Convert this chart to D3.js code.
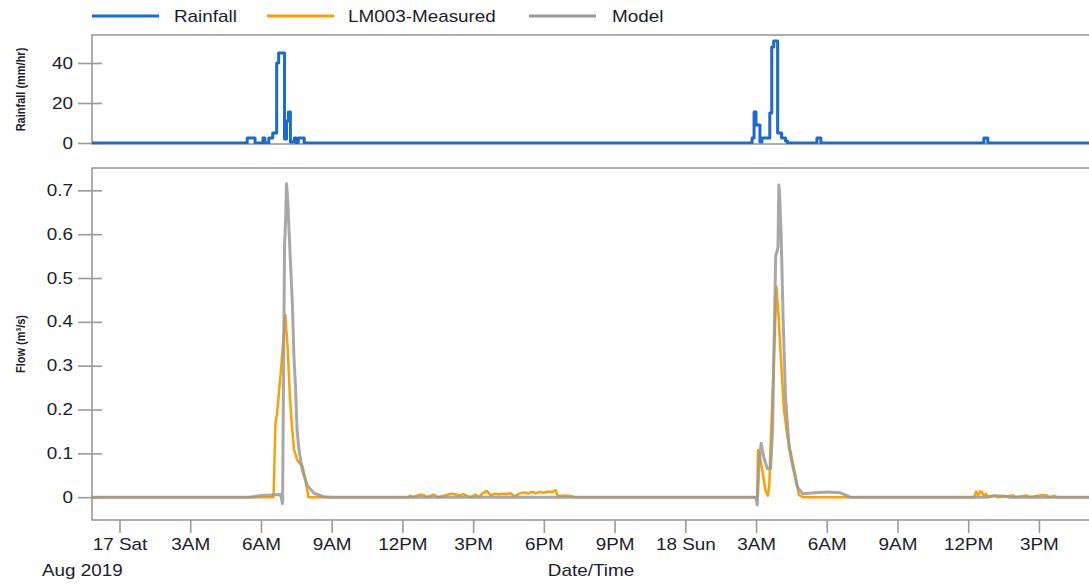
<!DOCTYPE html>
<html><head><meta charset="utf-8">
<script src="https://cdn.jsdelivr.net/npm/d3@7/dist/d3.min.js"></script>
<style>
body{margin:0;background:#fff;}
svg{display:block;}
text{font-family:'Liberation Sans',Arial,sans-serif;fill:#1c1c2c;}
</style>
</head><body>
<svg id="c" width="1089" height="584"></svg>
<script>
// ---------- DATA ----------
const seriesNames = ["Rainfall", "LM003-Measured", "Model"];
const seriesColors = ["#1a6ad0", "#ffa000", "#999999"];

const timeDomain = ["2019-08-16 22:50", "2019-08-18 17:10"];
const xTickLabels = ["17 Sat","3AM","6AM","9AM","12PM","3PM","6PM","9PM","18 Sun","3AM","6AM","9AM","12PM","3PM"];
const rainTicks = [0, 20, 40];
const flowTicks = [0, 0.1, 0.2, 0.3, 0.4, 0.5, 0.6, 0.7];
const rainDomain = [-0.5, 54];
const flowDomain = [-0.052, 0.751];

// Rainfall (mm/hr), step values starting at each time
const rainTimes = [
 "2019-08-16 22:50","2019-08-17 05:25","2019-08-17 05:45","2019-08-17 06:05","2019-08-17 06:10",
 "2019-08-17 06:20","2019-08-17 06:30","2019-08-17 06:40","2019-08-17 06:45","2019-08-17 07:00",
 "2019-08-17 07:05","2019-08-17 07:10","2019-08-17 07:15","2019-08-17 07:25","2019-08-17 07:30",
 "2019-08-17 07:35","2019-08-17 07:50",
 "2019-08-18 02:50","2019-08-18 02:55","2019-08-18 03:00","2019-08-18 03:10","2019-08-18 03:15",
 "2019-08-18 03:35","2019-08-18 03:40","2019-08-18 03:45","2019-08-18 03:55","2019-08-18 04:05",
 "2019-08-18 04:15","2019-08-18 04:20",
 "2019-08-18 05:35","2019-08-18 05:45",
 "2019-08-18 12:40","2019-08-18 12:50","2019-08-18 17:10"];
const rainValues = [
 0, 2.5, 0, 2.5, 0,
 2.5, 5, 40, 45, 2,
 11, 15.5, 0.5, 2.5, 0,
 2.5, 0,
 2.5, 15.5, 9, 0.5, 2.5,
 15, 48, 51, 5, 2.5,
 1, 0,
 2.5, 0,
 2.5, 0, 0];

// Measured flow LM003 (m3/s)
const measTimes = [
 "2019-08-16 22:50","2019-08-17 06:32","2019-08-17 06:37","2019-08-17 06:41","2019-08-17 06:50",
 "2019-08-17 07:02","2019-08-17 07:08","2019-08-17 07:13","2019-08-17 07:18","2019-08-17 07:24",
 "2019-08-17 07:32","2019-08-17 07:41","2019-08-17 07:46","2019-08-17 07:53","2019-08-17 08:01",
 "2019-08-17 12:15","2019-08-17 12:20","2019-08-17 12:25","2019-08-17 12:45","2019-08-17 12:55",
 "2019-08-17 13:00","2019-08-17 13:20","2019-08-17 13:30","2019-08-17 14:05","2019-08-17 14:15",
 "2019-08-17 14:25","2019-08-17 14:35","2019-08-17 14:45","2019-08-17 14:55","2019-08-17 15:05",
 "2019-08-17 15:15","2019-08-17 15:25","2019-08-17 15:35","2019-08-17 15:45","2019-08-17 15:55",
 "2019-08-17 16:05","2019-08-17 16:15","2019-08-17 16:25","2019-08-17 16:35","2019-08-17 16:45",
 "2019-08-17 17:00","2019-08-17 17:10","2019-08-17 17:20","2019-08-17 17:30","2019-08-17 17:40",
 "2019-08-17 17:50","2019-08-17 18:00","2019-08-17 18:10","2019-08-17 18:20","2019-08-17 18:30",
 "2019-08-17 18:35","2019-08-17 18:55","2019-08-17 19:05","2019-08-17 19:20",
 "2019-08-18 03:03","2019-08-18 03:05","2019-08-18 03:10","2019-08-18 03:16","2019-08-18 03:24",
 "2019-08-18 03:30","2019-08-18 03:34","2019-08-18 03:37","2019-08-18 03:46","2019-08-18 03:52",
 "2019-08-18 03:58","2019-08-18 04:03","2019-08-18 04:11","2019-08-18 04:20","2019-08-18 04:32",
 "2019-08-18 04:41","2019-08-18 04:49","2019-08-18 05:00",
 "2019-08-18 12:15","2019-08-18 12:20","2019-08-18 12:25","2019-08-18 12:30","2019-08-18 12:35",
 "2019-08-18 12:40","2019-08-18 12:45","2019-08-18 12:50","2019-08-18 13:10","2019-08-18 13:15",
 "2019-08-18 13:55","2019-08-18 14:00","2019-08-18 14:30","2019-08-18 14:35","2019-08-18 15:10",
 "2019-08-18 15:20","2019-08-18 15:25","2019-08-18 15:40","2019-08-18 15:45","2019-08-18 17:10"];
const measValues = [
 0, 0, 0.17, 0.19, 0.28,
 0.415, 0.34, 0.24, 0.17, 0.11,
 0.085, 0.075, 0.07, 0.04, 0,
 0, 0.004, 0, 0.006, 0.005,
 0, 0.006, 0, 0.008, 0.006,
 0.004, 0.007, 0.003, 0, 0.006,
 0, 0.01, 0.014, 0.004, 0.008,
 0.006, 0.008, 0.007, 0.009, 0.002,
 0.009, 0.011, 0.008, 0.012, 0.009,
 0.012, 0.01, 0.013, 0.011, 0.016,
 0.003, 0.004, 0.003, 0,
 0, 0.107, 0.09, 0.062, 0.016,
 0.003, 0.03, 0.115, 0.33, 0.48,
 0.405, 0.32, 0.2, 0.138, 0.085,
 0.046, 0.005, 0,
 0, 0.013, 0.004, 0.013, 0.012,
 0.002, 0.008, 0, 0.004, 0,
 0.004, 0, 0.004, 0, 0.005,
 0.004, 0, 0.003, 0, 0];

// Model flow (m3/s)
const modelTimes = [
 "2019-08-16 22:50","2019-08-17 05:30","2019-08-17 06:00","2019-08-17 06:50","2019-08-17 06:55",
 "2019-08-17 07:00","2019-08-17 07:03","2019-08-17 07:05","2019-08-17 07:08","2019-08-17 07:14",
 "2019-08-17 07:20","2019-08-17 07:24","2019-08-17 07:28","2019-08-17 07:32","2019-08-17 07:37",
 "2019-08-17 07:45","2019-08-17 07:58","2019-08-17 08:15","2019-08-17 08:40","2019-08-17 09:00",
 "2019-08-18 03:00","2019-08-18 03:03","2019-08-18 03:08","2019-08-18 03:13","2019-08-18 03:20",
 "2019-08-18 03:29","2019-08-18 03:37","2019-08-18 03:42","2019-08-18 03:46","2019-08-18 03:50",
 "2019-08-18 03:56","2019-08-18 03:58","2019-08-18 04:00","2019-08-18 04:04","2019-08-18 04:09",
 "2019-08-18 04:15","2019-08-18 04:24","2019-08-18 04:32","2019-08-18 04:45","2019-08-18 04:58",
 "2019-08-18 05:30","2019-08-18 06:00","2019-08-18 06:35","2019-08-18 07:00",
 "2019-08-18 12:45","2019-08-18 13:00","2019-08-18 13:30","2019-08-18 13:45","2019-08-18 17:10"];
const modelValues = [
 0, 0, 0.004, 0.006, -0.015,
 0.57, 0.64, 0.715, 0.68, 0.557,
 0.44, 0.32, 0.25, 0.153, 0.107,
 0.062, 0.027, 0.009, 0.001, 0,
 0, -0.018, 0.08, 0.123, 0.09,
 0.065, 0.065, 0.15, 0.35, 0.55,
 0.57, 0.712, 0.69, 0.595, 0.405,
 0.23, 0.115, 0.077, 0.024, 0.008,
 0.01, 0.012, 0.01, 0,
 0, 0.003, 0.003, 0, 0];

// ---------- CHART ----------
const SX = 1.18;            // horizontal glyph stretch of the reference
const L = 92, R = 1090;
const top1 = 35, bot1 = 144, top2 = 168, bot2 = 520;
const svg = d3.select("#c");
const parse = d3.timeParse("%Y-%m-%d %H:%M");

const x = d3.scaleTime().domain(timeDomain.map(parse)).range([L, R]);
const yR = d3.scaleLinear().domain(rainDomain).range([bot1, top1]);
const yF = d3.scaleLinear().domain(flowDomain).range([bot2, top2]);

const defs = svg.append("defs");
defs.append("clipPath").attr("id","cp1").append("rect").attr("x",L).attr("y",top1).attr("width",R-L).attr("height",bot1-top1);
defs.append("clipPath").attr("id","cp2").append("rect").attr("x",L).attr("y",top2).attr("width",R-L).attr("height",bot2-top2);

function zipSeries(ts, vs){ return ts.map((t,i)=>({t:parse(t), v:vs[i]})); }

// frames
const frameColor = "#9a9a9a";
[[top1,bot1],[top2,bot2]].forEach(([a,b])=>{
  svg.append("rect").attr("x",L).attr("y",a).attr("width",R-L+20).attr("height",b-a)
    .attr("fill","none").attr("stroke",frameColor).attr("stroke-width",1.6);
});

// y axes
function yAxis(scale, ticks, fmt){
  const g = svg.append("g").attr("transform",`translate(${L},0)`)
    .call(d3.axisLeft(scale).tickValues(ticks).tickSize(14).tickPadding(5).tickFormat(fmt));
  g.select(".domain").remove();
  g.selectAll(".tick line").attr("x1",10).attr("stroke",frameColor).attr("stroke-width",1.6);
  g.selectAll(".tick text").attr("font-size",16).attr("fill","#1c1c2c")
    .attr("font-family","'Liberation Sans',Arial,sans-serif")
    .attr("x",-19/SX).attr("transform",`scale(${SX},1)`);
  return g;
}
yAxis(yR, rainTicks, d3.format("~g"));
yAxis(yF, flowTicks, d3.format("~g"));

// x axis
const xTicks = x.ticks(d3.timeHour.every(3));
const gx = svg.append("g").attr("transform",`translate(0,${bot2})`)
  .call(d3.axisBottom(x).tickValues(xTicks).tickSize(13).tickPadding(6).tickFormat((d,i)=>xTickLabels[i]));
gx.select(".domain").remove();
gx.selectAll(".tick line").attr("stroke",frameColor).attr("stroke-width",1.6);
gx.selectAll(".tick text").attr("font-size",16).attr("fill","#1c1c2c")
  .attr("font-family","'Liberation Sans',Arial,sans-serif")
  .attr("transform",`scale(${SX},1)`);

// axis titles
svg.append("text").attr("transform",`translate(20,${(top1+bot1)/2}) scale(${SX},1) rotate(-90)`)
  .attr("text-anchor","middle").attr("dy","0.35em").attr("font-size",11).attr("font-weight","bold")
  .text("Rainfall (mm/hr)");
svg.append("text").attr("transform",`translate(20,${(top2+bot2)/2}) scale(${SX},1) rotate(-90)`)
  .attr("text-anchor","middle").attr("dy","0.35em").attr("font-size",11).attr("font-weight","bold")
  .text("Flow (m³/s)");
svg.append("text").attr("transform",`translate(42,576) scale(${SX},1)`).attr("font-size",16).text("Aug 2019");
svg.append("text").attr("transform",`translate(${(L+R)/2},576) scale(${SX},1)`).attr("text-anchor","middle")
  .attr("font-size",16).text("Date/Time");

// lines
const rain = zipSeries(rainTimes, rainValues);
const meas = zipSeries(measTimes, measValues);
const model = zipSeries(modelTimes, modelValues);

svg.append("path").datum(rain).attr("clip-path","url(#cp1)")
  .attr("fill","none").attr("stroke",seriesColors[0]).attr("stroke-width",3).attr("stroke-linejoin","round")
  .attr("d", d3.line().x(d=>x(d.t)).y(d=>yR(d.v)).curve(d3.curveStepAfter));

svg.append("path").datum(meas).attr("clip-path","url(#cp2)")
  .attr("fill","none").attr("stroke",seriesColors[1]).attr("stroke-width",2.5).attr("stroke-linejoin","round")
  .attr("d", d3.line().x(d=>x(d.t)).y(d=>yF(d.v)));

svg.append("path").datum(model).attr("clip-path","url(#cp2)")
  .attr("fill","none").attr("stroke",seriesColors[2]).attr("stroke-opacity",0.85).attr("stroke-width",3).attr("stroke-linejoin","round")
  .attr("d", d3.line().x(d=>x(d.t)).y(d=>yF(d.v)));

// legend
const legLineX = [92, 267, 529], legTextX = [174, 348, 612];
seriesNames.forEach((n,i)=>{
  svg.append("line").attr("x1",legLineX[i]).attr("x2",legLineX[i]+67).attr("y1",16).attr("y2",16)
    .attr("stroke",seriesColors[i]).attr("stroke-width",3);
  svg.append("text").attr("transform",`translate(${legTextX[i]},22) scale(${SX},1)`).attr("font-size",16).text(n);
});
</script>
</body></html>
